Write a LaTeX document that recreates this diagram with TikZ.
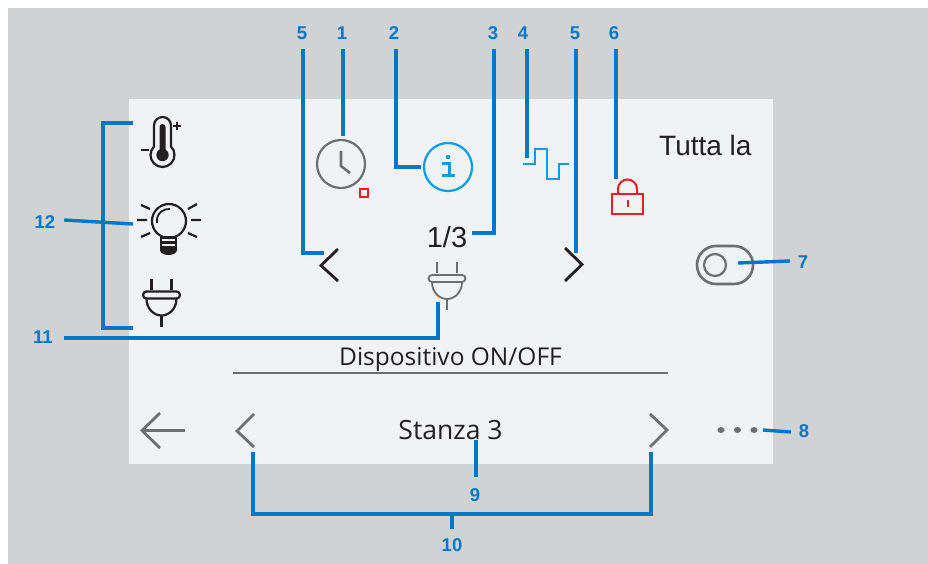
\documentclass[tikz,border=0pt]{standalone}
\usepackage{fontspec}
\setmainfont{Liberation Sans}
\newfontfamily\panelfont{Open Sans}
\definecolor{leaderblue}{HTML}{0077C8}
\definecolor{cyanicon}{HTML}{00A0E3}
\definecolor{grayicon}{HTML}{6D6E71}
\definecolor{darkicon}{HTML}{231F20}
\definecolor{redicon}{HTML}{ED1C24}
\definecolor{backgray}{HTML}{D1D2D4}
\definecolor{panelgray}{HTML}{F1F2F4}
\tikzset{
    leader/.style={draw=leaderblue,line width=3.4pt},
    numlabel/.style={text=leaderblue,font=\fontsize{18.5}{19}\selectfont\bfseries,inner sep=0pt,minimum width=26pt,minimum height=32pt},
    chevron/.style={line width=2.8pt,line join=miter},
    plugicon/.pic={
        \draw[pic actions] (-10,0) -- (-10,11) (10,0) -- (10,11);
        \draw[pic actions,rounded corners=3.5pt] (-18.5,13) rectangle (18.5,20);
        \draw[pic actions] (-15,20) .. controls (-15,31) and (-7,37) .. (0,37) .. controls (7,37) and (15,31) .. (15,20);
        \draw[pic actions] (0,37) -- (0,48);
    }
}
\begin{document}
\begin{tikzpicture}[x=1pt,y=-1pt]
            \useasboundingbox (0,0) rectangle (928,564);
            \fill[backgray] (8,8) rectangle (928,564);
            \fill[panelgray] (129,99) rectangle (773,464);

            \coordinate (clocktop) at (343,136);
            \coordinate (infoleft) at (421,167);
            \coordinate (fractionright) at (472,233);
            \coordinate (wavetop) at (527,158);
            \coordinate (lefttip) at (324,253);
            \coordinate (righttip) at (576,253);
            \coordinate (locktop) at (616,179);
            \coordinate (toggleright) at (738,263);
            \coordinate (dotsright) at (763,430);
            \coordinate (stanzabottom) at (476,440);
            \coordinate (prevbottom) at (253,452);
            \coordinate (nextbottom) at (651,452);
            \coordinate (bracketfoot) at (452,514);
            \coordinate (plugbottom) at (438,302);
            \coordinate (thermoend) at (133,123);
            \coordinate (bulbend) at (133,224);
            \coordinate (plugend) at (133,328);
            \coordinate (bracketmid) at (103,224);

            \node[numlabel] (n5a) at (302,33) {5};
            \node[numlabel] (n1) at (342,33) {1};
            \node[numlabel] (n2) at (394,33) {2};
            \node[numlabel] (n3) at (493,33) {3};
            \node[numlabel] (n4) at (523,33) {4};
            \node[numlabel] (n5b) at (575,33) {5};
            \node[numlabel] (n6) at (614,33) {6};
            \node[numlabel] (n7) at (803,262) {7};
            \node[numlabel] (n8) at (804,431) {8};
            \node[numlabel] (n9) at (475,495) {9};
            \node[numlabel] (n10) at (452,545) {10};
            \node[numlabel] (n11) at (43,337) {11};
            \node[numlabel] (n12) at (45,222) {12};

            \draw[grayicon,line width=2.2pt] (341,164) circle (24);
            \draw[grayicon,line width=2.6pt] (341,151) -- (341,166) -- (350,173);
            \draw[redicon,line width=2.4pt] (360,189) rectangle (368,197);

            \draw[cyanicon,line width=2.2pt] (448,167) circle (24);
            \fill[cyanicon] (448,157) circle (2.2);
            \draw[cyanicon,line width=3pt] (442,164) -- (449,164) -- (449,176) (442,176) -- (455,176);

            \draw[cyanicon,line width=1.7pt] (523,164) -- (535,164) -- (535,149) -- (547,149) -- (547,179) -- (559,179) -- (559,164) -- (569,164);

            \draw[redicon,line width=2pt] (612,194) rectangle (643,214);
            \draw[redicon,line width=2pt] (618,194) -- (618,189) arc[start angle=180,end angle=360,radius=9.5] -- (637,194);
            \draw[redicon,line width=2pt] (627.5,200) -- (627.5,207);

            \node[inner sep=0pt,anchor=base west,text=darkicon,font=\fontsize{28}{28}\selectfont] (tutta) at (659,156) {Tutta la};
            \node[inner sep=0pt,anchor=base,text=darkicon,font=\fontsize{29}{29}\selectfont] (fraction) at (447,247) {1/3};

            \draw[grayicon,line width=2.6pt,rounded corners=19pt] (697,246) rectangle (753,284);
            \draw[grayicon,line width=2.2pt] (715,265) circle (11);

            \draw[darkicon,chevron] (338,249) -- (321,265.5) -- (338,281);
            \draw[darkicon,chevron] (565,248) -- (582,264.5) -- (565,281);

            \pic[grayicon,line width=1.8pt] at (447,262) {plugicon};
            \pic[darkicon,line width=2.2pt] at (161.5,278.5) {plugicon};

            \draw[darkicon,line width=2.2pt] (154,125.5) arc[start angle=180,end angle=360,radius=8.5] -- (171,146.5) arc[start angle=-45,end angle=225,radius=12] -- cycle;
            \fill[darkicon] (159.5,127) arc[start angle=180,end angle=360,radius=3] -- (165.5,150) -- (159.5,150) -- cycle;
            \fill[darkicon] (162.5,155) circle (6.2);
            \draw[darkicon,line width=2pt] (173,126) -- (181,126) (177,122) -- (177,130) (141,150) -- (149,150);

            \draw[darkicon,line width=2.2pt] (169,221) circle (17);
            \draw[darkicon,line width=1.8pt] (157,223) arc[start angle=170,end angle=275,radius=12];
            \draw[darkicon,line width=2.2pt] (160,237.5) -- (177,237.5) (160,242.5) -- (177,242.5) (160,247) -- (177,247);
            \draw[darkicon,line width=2.2pt] (161,237) -- (161,250) (176,237) -- (176,250);
            \fill[darkicon] (160,247) -- (177,247) -- (177,250) .. controls (177,253) and (173,255) .. (168.5,255) .. controls (164,255) and (160,253) .. (160,250) -- cycle;
            \draw[darkicon,line width=2.2pt] (137,220) -- (147,220) (191,220) -- (201,220) (141,205) -- (150,209) (197,204) -- (188,209) (141,237) -- (150,233) (197,237) -- (188,233);

            \node[inner sep=0pt,anchor=base,text=darkicon,font=\panelfont\fontsize{24.5}{25}\selectfont] (device) at (450.5,365) {Dispositivo ON/OFF};
            \draw[grayicon,line width=1.5pt] (233,373) -- (668,373);
            \node[inner sep=0pt,anchor=base,text=darkicon,font=\panelfont\fontsize{26.5}{27}\selectfont] (stanza) at (450.5,439) {Stanza 3};

            \draw[grayicon,chevron] (160,413) -- (142,430.5) -- (160,448);
            \draw[grayicon,line width=3pt] (143,430) -- (185,430);
            \draw[grayicon,chevron] (254,414) -- (237,431) -- (254,447);
            \draw[grayicon,chevron] (650,414) -- (667,430) -- (650,447);
            \fill[grayicon] (721,430) ellipse (3.6 and 3);
            \fill[grayicon] (737.5,430) ellipse (3.6 and 3);
            \fill[grayicon] (754,430) ellipse (3.6 and 3);

            \draw[leader] ([xshift=1pt]n5a.south) |- (lefttip);
            \draw[leader] ([xshift=1pt]n1.south) -- (clocktop);
            \draw[leader] ([xshift=2pt]n2.south) |- (infoleft);
            \draw[leader] ([xshift=1pt]n3.south) |- (fractionright);
            \draw[leader] ([xshift=4pt]n4.south) -- (wavetop);
            \draw[leader] ([xshift=1pt]n5b.south) -- (righttip);
            \draw[leader] ([xshift=2pt]n6.south) -- (locktop);
            \draw[leader] ([yshift=1pt]n7.west) -- (toggleright);
            \draw[leader] ([yshift=-1pt]n8.west) -- (dotsright);
            \draw[leader] ([xshift=1pt,yshift=2pt]n9.north) -- (stanzabottom);
            \draw[leader] (n10.north) -- (bracketfoot);
            \draw[leader] (prevbottom) |- (bracketfoot) -| (nextbottom);
            \draw[leader] ([xshift=8pt,yshift=-1pt]n11.east) -| (plugbottom);
            \draw[leader] ([xshift=6pt,yshift=2pt]n12.east) -- (bulbend);
            \draw[leader] (thermoend) -| (bracketmid) |- (plugend);
        \end{tikzpicture}
\end{document}
